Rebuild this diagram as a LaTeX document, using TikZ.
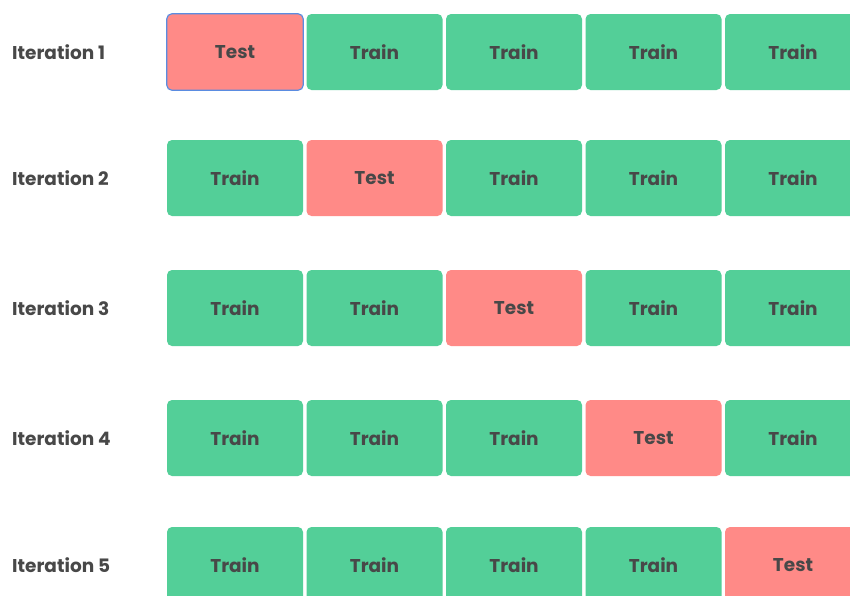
\documentclass[tikz,border=0pt]{standalone}
\usepackage{fontspec}
\setmainfont{Poppins}
\definecolor{traing}{RGB}{83,207,152}
\definecolor{testr}{RGB}{255,138,135}
\definecolor{txt}{RGB}{72,72,72}
\definecolor{selb}{RGB}{90,140,225}
\tikzset{
  fold/.style={minimum width=136pt, minimum height=76pt, rounded corners=5pt, inner sep=0pt, text=txt, font=\fontsize{18.5}{20}\selectfont\bfseries},
  trainbox/.style={fold, fill=traing},
  testbox/.style={fold, fill=testr},
  itlabel/.style={anchor=west, inner sep=0pt, text=txt, font=\fontsize{18.5}{20}\selectfont\bfseries}
}
\begin{document}
\begin{tikzpicture}[x=1pt,y=-1pt]
\useasboundingbox (0,0) rectangle (850,595);
\clip (0,0) rectangle (850,595);
\fill[white] (0,0) rectangle (850,595);
\foreach \r/\yc in {1/52,2/178,3/308,4/438,5/565}{
  \node[itlabel] (it\r) at (12,\yc) {Iteration \r};
  \foreach \c/\xc in {1/235,2/374.5,3/514,4/653.5,5/793}{
    \ifnum\r=\c
      \node[testbox] (b\r\c) at (\xc,\yc) {Test};
    \else
      \node[trainbox] (b\r\c) at (\xc,\yc) {Train};
    \fi
  }
}
\draw[selb, line width=1.2pt, rounded corners=5pt] (b11.south west) rectangle (b11.north east);
\end{tikzpicture}
\end{document}
